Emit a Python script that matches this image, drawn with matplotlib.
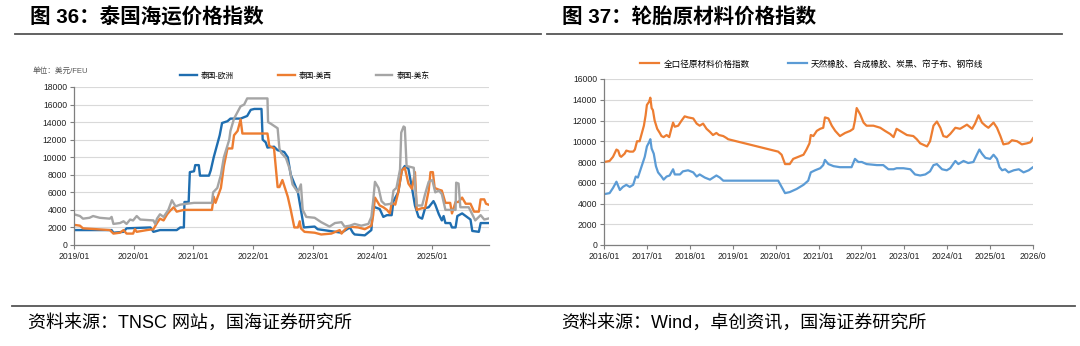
import matplotlib
matplotlib.use('AGG')
import matplotlib.pyplot as plt
from matplotlib.lines import Line2D

plt.rcParams['font.family'] = ['Liberation Sans', 'Noto Sans CJK SC']

W, H = 1080, 346

# ---- left chart data: Thailand freight index (USD/FEU) ----
eu_t = [2019.00, 2019.63, 2019.66, 2019.83, 2019.88, 2020.28, 2020.33, 2020.44, 2020.72, 2020.78,
        2020.84, 2020.85, 2020.92, 2020.94, 2021.01, 2021.03, 2021.09, 2021.11, 2021.26, 2021.29,
        2021.34, 2021.40, 2021.44, 2021.48, 2021.57, 2021.62, 2021.79, 2021.90, 2021.96, 2022.02,
        2022.14, 2022.16, 2022.21, 2022.24, 2022.35, 2022.41, 2022.52, 2022.58, 2022.63, 2022.69,
        2022.75, 2022.80, 2022.85, 2023.03, 2023.08, 2023.48, 2023.62, 2023.67, 2023.70, 2023.87,
        2023.98, 2024.01, 2024.04, 2024.12, 2024.18, 2024.24, 2024.32, 2024.35, 2024.43, 2024.49,
        2024.54, 2024.60, 2024.66, 2024.71, 2024.77, 2024.83, 2024.88, 2024.94, 2025.02, 2025.05,
        2025.11, 2025.16, 2025.19, 2025.22, 2025.30, 2025.33, 2025.39, 2025.42, 2025.50, 2025.56,
        2025.64, 2025.67, 2025.78, 2025.81, 2025.99]
eu_v = [1700, 1700, 1400, 1500, 1900, 2000, 1500, 1700, 1700, 2000,
        2000, 4900, 4900, 8300, 8400, 9100, 9100, 7900, 7900, 8500,
        10000, 11500, 12500, 13900, 14100, 14400, 14400, 14700, 15400, 15500,
        15500, 12000, 11700, 11100, 11200, 10800, 10600, 10000, 8000, 7000,
        6000, 4000, 2000, 2100, 1800, 1400, 2000, 1400, 1200, 1100,
        1700, 4500, 4300, 4100, 3200, 3400, 3400, 5000, 6000, 8500,
        9000, 8700, 6500, 4500, 3200, 3000, 4200, 4300, 5000, 4600,
        3500, 2800, 3300, 2500, 2500, 2000, 2000, 3300, 3600, 3300,
        2900, 1600, 1500, 2500, 2500]

usw_t = [2019.00, 2019.10, 2019.15, 2019.60, 2019.66, 2019.77, 2019.83, 2019.88, 2019.99, 2020.02,
         2020.05, 2020.22, 2020.33, 2020.39, 2020.44, 2020.50, 2020.56, 2020.61, 2020.67, 2020.72,
         2020.84, 2021.31, 2021.34, 2021.37, 2021.46, 2021.51, 2021.57, 2021.65, 2021.68, 2021.74,
         2021.79, 2021.82, 2022.24, 2022.27, 2022.35, 2022.41, 2022.44, 2022.49, 2022.58, 2022.63,
         2022.69, 2022.75, 2022.78, 2022.80, 2022.86, 2023.03, 2023.14, 2023.31, 2023.45, 2023.48,
         2023.53, 2023.59, 2023.76, 2023.87, 2023.98, 2024.01, 2024.04, 2024.12, 2024.18, 2024.24,
         2024.29, 2024.32, 2024.38, 2024.43, 2024.49, 2024.54, 2024.60, 2024.66, 2024.71, 2024.74,
         2024.83, 2024.88, 2024.94, 2024.97, 2025.01, 2025.04, 2025.11, 2025.16, 2025.22, 2025.30,
         2025.33, 2025.39, 2025.44, 2025.50, 2025.56, 2025.64, 2025.70, 2025.78, 2025.81, 2025.87,
         2025.90, 2025.94, 2025.99]
usw_v = [2300, 2200, 1900, 1700, 1300, 1400, 1700, 1300, 1300, 1800,
         1500, 1700, 1800, 2500, 3000, 2800, 3500, 3900, 4300, 3800,
         4000, 4000, 5500, 4800, 6500, 9000, 11000, 11000, 12500, 13000,
         14300, 12700, 12700, 11300, 11000, 6600, 6600, 7400, 5500, 4000,
         2000, 2000, 2700, 1900, 1500, 1400, 1200, 1300, 1700, 1300,
         1700, 2100, 2000, 1800, 2200, 3400, 5400, 4500, 4300, 4000,
         3600, 4800, 4600, 6000, 8500, 8800, 7000, 6400, 8300, 4000,
         4200, 4200, 6200, 8300, 8300, 6500, 6300, 6200, 4800, 4800,
         3600, 4900, 4900, 5400, 4700, 4700, 3800, 3800, 5200, 5200,
         4700, 4600, 4500]

use_t = [2019.00, 2019.10, 2019.15, 2019.26, 2019.32, 2019.43, 2019.60, 2019.63, 2019.66, 2019.77,
         2019.83, 2019.88, 2019.94, 2019.99, 2020.05, 2020.11, 2020.33, 2020.36, 2020.39, 2020.44,
         2020.50, 2020.58, 2020.64, 2020.70, 2020.78, 2020.89, 2021.01, 2021.31, 2021.33, 2021.40,
         2021.46, 2021.51, 2021.60, 2021.62, 2021.68, 2021.79, 2021.85, 2021.90, 2022.24, 2022.25,
         2022.30, 2022.41, 2022.44, 2022.47, 2022.55, 2022.61, 2022.66, 2022.75, 2022.80, 2022.83,
         2022.89, 2023.03, 2023.14, 2023.28, 2023.37, 2023.48, 2023.53, 2023.62, 2023.70, 2023.81,
         2023.93, 2023.98, 2024.01, 2024.04, 2024.10, 2024.15, 2024.21, 2024.32, 2024.35, 2024.40,
         2024.46, 2024.48, 2024.52, 2024.54, 2024.57, 2024.69, 2024.71, 2024.74, 2024.83, 2024.88,
         2024.94, 2025.00, 2025.05, 2025.11, 2025.16, 2025.22, 2025.39, 2025.40, 2025.44, 2025.47,
         2025.61, 2025.67, 2025.72, 2025.81, 2025.87, 2025.99]
use_v = [3500, 3300, 3000, 3100, 3300, 3100, 3000, 3200, 2400, 2500,
         2700, 2400, 2900, 2800, 3300, 2900, 2800, 2400, 3000, 3500,
         3200, 4000, 5100, 4400, 4600, 4700, 4800, 4800, 6000, 6500,
         8000, 10000, 12000, 13000, 14400, 15800, 16000, 16700, 16700, 14000,
         13800, 13300, 11000, 10500, 9900, 8700, 6900, 6000, 6900, 4000,
         3200, 3100, 2600, 2100, 2500, 2600, 2100, 2200, 2400, 2200,
         2400, 3200, 5000, 7200, 6500, 5000, 4600, 4700, 6200, 6500,
         8600, 12800, 13500, 13400, 9000, 8800, 7000, 4500, 4500, 5800,
         7200, 7400, 6000, 6200, 5800, 4000, 4000, 7100, 7000, 4300,
         4300, 3500, 2800, 3400, 2900, 3100]

left_names = ['泰国-欧洲', '泰国-美西', '泰国-美东']
left_years = list(range(2019, 2026))

# ---- right chart data: tyre raw material price index ----
all_t = [2016.00, 2016.13, 2016.21, 2016.29, 2016.33, 2016.37, 2016.40, 2016.48, 2016.52, 2016.60,
         2016.68, 2016.72, 2016.77, 2016.83, 2016.87, 2016.93, 2016.97, 2017.00, 2017.05, 2017.08,
         2017.11, 2017.14, 2017.18, 2017.24, 2017.30, 2017.34, 2017.39, 2017.46, 2017.52, 2017.57,
         2017.61, 2017.65, 2017.73, 2017.81, 2017.88, 2017.96, 2018.08, 2018.16, 2018.23, 2018.31,
         2018.39, 2018.47, 2018.54, 2018.62, 2018.68, 2018.78, 2018.86, 2018.89, 2020.06, 2020.14,
         2020.22, 2020.33, 2020.41, 2020.53, 2020.65, 2020.72, 2020.79, 2020.82, 2020.88, 2020.96,
         2021.04, 2021.11, 2021.15, 2021.23, 2021.31, 2021.39, 2021.50, 2021.62, 2021.74, 2021.81,
         2021.85, 2021.89, 2021.97, 2022.05, 2022.12, 2022.28, 2022.44, 2022.55, 2022.67, 2022.75,
         2022.82, 2022.90, 2023.06, 2023.21, 2023.29, 2023.37, 2023.53, 2023.60, 2023.68, 2023.76,
         2023.84, 2023.91, 2023.99, 2024.07, 2024.19, 2024.30, 2024.46, 2024.58, 2024.65, 2024.73,
         2024.81, 2024.89, 2024.96, 2025.08, 2025.16, 2025.24, 2025.31, 2025.43, 2025.51, 2025.63,
         2025.74, 2025.86, 2025.94, 2026.00]
all_v = [8000, 8100, 8500, 9200, 9100, 8600, 8500, 8800, 9100, 9000,
         9000, 9200, 10000, 10000, 10600, 11500, 12500, 13500, 13800, 14200,
         13200, 13000, 12000, 11200, 10800, 10500, 10400, 10600, 10400, 11200,
         11800, 11400, 11500, 12000, 12400, 12300, 12200, 11700, 11500, 11700,
         11200, 10900, 10600, 10800, 10600, 10500, 10300, 10200, 9000, 8700,
         7800, 7800, 8300, 8500, 8700, 9200, 9800, 10600, 10500, 11000,
         11200, 11300, 12300, 12200, 11500, 11000, 10500, 10800, 11000, 11200,
         12000, 13200, 12600, 11800, 11500, 11500, 11300, 11000, 10700, 10400,
         11200, 11000, 10600, 10500, 10200, 9800, 9500, 10000, 11500, 11900,
         11300, 10500, 10400, 10700, 11300, 11200, 11600, 11200, 11700, 12500,
         11800, 11500, 11300, 11800, 11300, 10500, 9700, 9800, 10100, 10000,
         9700, 9800, 9900, 10300]

rub_t = [2016.00, 2016.13, 2016.21, 2016.29, 2016.37, 2016.44, 2016.52, 2016.60, 2016.68, 2016.74,
         2016.79, 2016.87, 2016.95, 2017.00, 2017.05, 2017.08, 2017.11, 2017.16, 2017.21, 2017.26,
         2017.34, 2017.39, 2017.46, 2017.53, 2017.61, 2017.65, 2017.77, 2017.84, 2017.96, 2018.08,
         2018.16, 2018.23, 2018.35, 2018.47, 2018.62, 2018.70, 2018.78, 2020.06, 2020.14, 2020.22,
         2020.33, 2020.49, 2020.65, 2020.76, 2020.82, 2020.92, 2021.04, 2021.11, 2021.15, 2021.23,
         2021.35, 2021.50, 2021.66, 2021.77, 2021.85, 2021.93, 2022.01, 2022.12, 2022.36, 2022.51,
         2022.63, 2022.75, 2022.82, 2022.98, 2023.14, 2023.25, 2023.37, 2023.49, 2023.60, 2023.68,
         2023.76, 2023.88, 2023.99, 2024.07, 2024.19, 2024.26, 2024.38, 2024.49, 2024.61, 2024.69,
         2024.75, 2024.81, 2024.89, 2025.00, 2025.08, 2025.16, 2025.22, 2025.28, 2025.35, 2025.43,
         2025.55, 2025.67, 2025.78, 2025.90, 2026.00]
rub_v = [4900, 5000, 5500, 6100, 5300, 5600, 5800, 5600, 5800, 6600,
         6500, 7500, 8500, 9500, 9900, 10200, 9300, 8800, 7600, 7000,
         6600, 6300, 6600, 6700, 7300, 6800, 6800, 7100, 7200, 7000,
         6600, 6800, 6500, 6300, 6700, 6500, 6200, 6200, 5600, 5000,
         5100, 5400, 5800, 6200, 7000, 7200, 7400, 7700, 8200, 7800,
         7600, 7500, 7500, 7500, 8300, 8000, 8000, 7800, 7700, 7700,
         7300, 7300, 7400, 7400, 7300, 6800, 6700, 6800, 7100, 7700,
         7800, 7300, 7200, 7400, 8100, 7800, 8100, 7900, 8000, 8700,
         9200, 8800, 8400, 8300, 8700, 8300, 7500, 7200, 7300, 7000,
         7200, 7300, 7000, 7200, 7500]

right_names = ['全口径原材料价格指数', '天然橡胶、合成橡胶、炭黑、帘子布、钢帘线']
right_years = list(range(2016, 2027))
right_labels = [str(y) + '/01' for y in right_years[:-1]] + ['2026/0']


def px(x0, y0, x1, y1):
    # pixel box (top-left origin) -> figure fraction rect
    return [x0 / W, 1 - y1 / H, (x1 - x0) / W, (y1 - y0) / H]


def style_axes(ax, ymax, ystep):
    ax.set_ylim(0, ymax)
    ax.set_yticks(range(0, ymax + 1, ystep))
    ax.grid(axis='y', color='#d9d9d9', linewidth=0.8)
    ax.set_axisbelow(True)
    for s in ['top', 'right']:
        ax.spines[s].set_visible(False)
    for s in ['left', 'bottom']:
        ax.spines[s].set_color('#7f7f7f')
        ax.spines[s].set_linewidth(0.9)
    ax.tick_params(axis='both', labelsize=6.2, colors='#7f7f7f', labelcolor='#222222',
                   length=3, width=0.8, pad=2)


fig = plt.figure(figsize=(W / 100, H / 100), dpi=100)

# titles and rules
fig.text(30 / W, 1 - 17 / H, '图 36：泰国海运价格指数', fontsize=14.8, fontweight='bold',
         va='center', ha='left')
fig.text(562 / W, 1 - 17 / H, '图 37：轮胎原材料价格指数', fontsize=14.8, fontweight='bold',
         va='center', ha='left')
fig.add_artist(Line2D([15 / W, 541 / W], [1 - 34 / H, 1 - 34 / H], color='#555555', lw=1.3))
fig.add_artist(Line2D([547 / W, 1062 / W], [1 - 34 / H, 1 - 34 / H], color='#555555', lw=1.3))
fig.add_artist(Line2D([12 / W, 1075 / W], [1 - 306 / H, 1 - 306 / H], color='#555555', lw=1.3))
fig.text(28 / W, 1 - 323 / H, '资料来源：TNSC 网站，国海证券研究所', fontsize=13, va='center')
fig.text(561 / W, 1 - 323 / H, '资料来源：Wind，卓创资讯，国海证券研究所', fontsize=13, va='center')

# ---- left chart ----
ax1 = fig.add_axes(px(74, 87, 489, 245))
ax1.plot(eu_t, eu_v, color='#1f6eb0', lw=1.7, label=left_names[0])
ax1.plot(usw_t, usw_v, color='#ed7d31', lw=1.7, label=left_names[1])
ax1.plot(use_t, use_v, color='#a5a5a5', lw=1.7, label=left_names[2])
ax1.set_xlim(2019.0, 2025.95)
ax1.set_xticks(left_years)
ax1.set_xticklabels([str(y) + '/01' for y in left_years])
style_axes(ax1, 18000, 2000)
ax1.legend(loc='center left', bbox_to_anchor=(176 / W, 1 - 76 / H), bbox_transform=fig.transFigure,
           ncol=3, frameon=False, fontsize=5.5, handlelength=2.2, handletextpad=0.5,
           columnspacing=5.8, borderpad=0)
fig.text(33 / W, 1 - 71 / H, '单位：美元/FEU', fontsize=5.5, color='#555555', va='center')

# ---- right chart ----
ax2 = fig.add_axes(px(604, 79, 1033, 245))
ax2.plot(all_t, all_v, color='#ed7d31', lw=1.6, label=right_names[0])
ax2.plot(rub_t, rub_v, color='#5b9bd5', lw=1.6, label=right_names[1])
ax2.set_xlim(2016.0, 2026.0)
ax2.set_xticks(right_years)
ax2.set_xticklabels(right_labels)
style_axes(ax2, 16000, 2000)
ax2.legend(loc='center left', bbox_to_anchor=(636 / W, 1 - 64 / H), bbox_transform=fig.transFigure,
           ncol=2, frameon=False, fontsize=6.2, handlelength=2.2, handletextpad=0.5,
           columnspacing=4.4, borderpad=0)

fig.savefig('out.png', dpi=100)
